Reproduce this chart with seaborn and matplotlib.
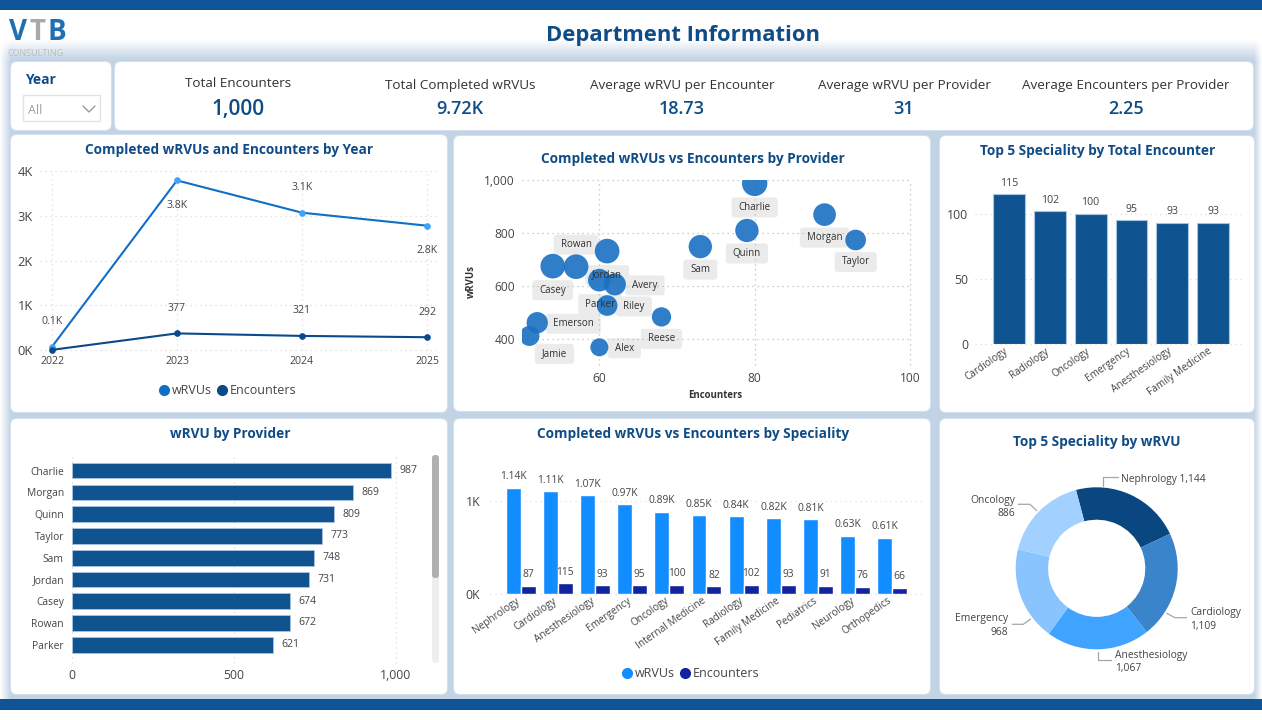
import numpy as np
import pandas as pd
import matplotlib
matplotlib.use("Agg")
import matplotlib.pyplot as plt
from matplotlib.lines import Line2D
from matplotlib.patches import FancyBboxPatch, Rectangle
from matplotlib.transforms import ScaledTranslation
import seaborn as sns

# ---------- data ----------
years = [2022, 2023, 2024, 2025]
year_wrvus = [80, 3790, 3070, 2780]
year_encounters = [10, 377, 321, 292]
year_wrvu_labels = ["0.1K", "3.8K", "3.1K", "2.8K"]
year_enc_labels = ["", "377", "321", "292"]

providers = ["Charlie", "Morgan", "Quinn", "Taylor", "Sam", "Jordan", "Casey", "Rowan",
             "Parker", "Avery", "Riley", "Reese", "Emerson", "Jamie", "Alex"]
provider_encounters = [80, 89, 79, 93, 73, 61, 54, 57, 60, 62, 61, 68, 52, 51, 60]
provider_wrvus = [987, 869, 809, 773, 748, 731, 674, 672, 621, 605, 525, 482, 460, 410, 367]
provider_bubble = [38, 34, 35, 31, 35, 37, 37, 37, 34, 33, 31, 29, 32, 30, 27]

bar_providers = ["Charlie", "Morgan", "Quinn", "Taylor", "Sam", "Jordan", "Casey", "Rowan", "Parker"]
bar_provider_wrvus = [987, 869, 809, 773, 748, 731, 674, 672, 621]

top_enc_specialities = ["Cardiology", "Radiology", "Oncology", "Emergency", "Anesthesiology", "Family Medicine"]
top_enc_values = [115, 102, 100, 95, 93, 93]

specialities = ["Nephrology", "Cardiology", "Anesthesiology", "Emergency", "Oncology", "Internal Medicine",
                "Radiology", "Family Medicine", "Pediatrics", "Neurology", "Orthopedics"]
spec_wrvus = [1144, 1109, 1067, 968, 886, 848, 838, 817, 808, 628, 607]
spec_encounters = [87, 115, 93, 95, 100, 82, 102, 93, 91, 76, 66]
spec_wrvu_labels = ["1.14K", "1.11K", "1.07K", "0.97K", "0.89K", "0.85K", "0.84K", "0.82K", "0.81K", "0.63K", "0.61K"]

donut_names = ["Nephrology", "Cardiology", "Anesthesiology", "Emergency", "Oncology"]
donut_values = [1144, 1109, 1067, 968, 886]

kpi_names = ["Total Encounters", "Total Completed wRVUs", "Average wRVU per Encounter",
             "Average wRVU per Provider", "Average Encounters per Provider"]
kpi_values = ["1,000", "9.72K", "18.73", "31", "2.25"]

# ---------- style ----------
W, H = 1262, 720
sns.set_theme(style="white")
plt.rcParams["font.family"] = ["Open Sans", "DejaVu Sans"]
NAVY = "#0F4C86"
BAR = "#0F5490"
EDGE = "#A9C4E0"
TXT = "#444444"
GRID = "#DCDCDC"
dotted = (0, (1, 3))

fig = plt.figure(figsize=(W / 100, H / 100), dpi=100, facecolor="white")


def axpx(x0, y0, x1, y1, **kw):
    ax = fig.add_axes([x0 / W, 1 - y1 / H, (x1 - x0) / W, (y1 - y0) / H], **kw)
    ax.patch.set_alpha(0)
    return ax


# base layer in pixel coordinates
base = axpx(0, 0, W, H)
base.axis("off")
xx, yy = np.meshgrid(np.arange(W) + 0.5, np.arange(H) + 0.5)
shade = np.clip((yy - 40) / 20, 0, 1) * np.clip(xx / 11, 0, 1) * np.clip((W - xx) / 8, 0, 1)
c1 = np.array([0xC2, 0xD3, 0xE5]) / 255
bg = 1 - shade[..., None] * (1 - c1)
base.imshow(bg, extent=(0, W, H, 0), aspect="auto", zorder=0)
base.add_patch(Rectangle((0, 0), W, 10, fc="#0F5496", ec="none", zorder=1))
base.add_patch(Rectangle((0, 699), W, 11, fc="#0F5496", ec="none", zorder=1))
base.add_patch(Rectangle((0, 710), W, 10, fc="white", ec="none", zorder=1))
base.set_xlim(0, W)
base.set_ylim(H, 0)

cards = [(11, 62, 111, 130), (115, 62, 1253, 130), (11, 135, 447, 412), (454, 136, 930, 411),
         (940, 136, 1254, 412), (11, 419, 447, 694), (454, 419, 930, 694), (940, 419, 1254, 694)]
for x0, y0, x1, y1 in cards:
    base.add_patch(FancyBboxPatch((x0 - 1, y0 - 1), x1 - x0 + 2, y1 - y0 + 2,
                                  boxstyle="round,pad=0,rounding_size=7", fc="white", ec="none",
                                  alpha=0.3, zorder=2))
    base.add_patch(FancyBboxPatch((x0, y0), x1 - x0, y1 - y0, boxstyle="round,pad=0,rounding_size=6",
                                  fc="white", ec="none", zorder=3))


def T(x, y, s, size=8, color=TXT, ha="center", va="center", weight="normal", **kw):
    return base.text(x, y + 1, s, fontsize=size, color=color, ha=ha, va=va, fontweight=weight, zorder=5, **kw)


# header, logo, slicer, KPI
T(682.5, 34, "Department Information", size=15.8, color=NAVY, weight="bold")
T(9, 31, "V", size=20, color="#1F6FB2", ha="left", weight="bold")
T(29.5, 31, "T", size=20, color="#A9A9A9", ha="left", weight="bold")
T(47, 31, "B", size=20, color="#1F6FB2", ha="left", weight="bold")
T(8, 53, "CONSULTING", size=6.5, color="#BDBDBD", ha="left")
T(25, 78.5, "Year", size=10, color=NAVY, ha="left", weight="bold")
base.add_patch(Rectangle((23, 95), 77, 26, fc="white", ec="#E4E4E4", lw=1, zorder=4))
T(28, 109, "All", size=9, color="#A0A0A0", ha="left")
base.plot([83, 89, 95], [106, 112, 106], color="#9A9A9A", lw=1, zorder=5)

kpi_x = [238, 460, 682, 904, 1126]
kpi_y = [82.5, 84.5, 84.5, 84.5, 84.5]
for x, y, n, v, s in zip(kpi_x, kpi_y, kpi_names, kpi_values, [15, 13, 13, 13, 13]):
    T(x, y, n, size=9.7, color="#333333")
    T(x, 108, v, size=s, color=NAVY, weight="semibold")

# card titles
T(229, 149, "Completed wRVUs and Encounters by Year", size=9.8, color=NAVY, weight="bold")
T(693, 158, "Completed wRVUs vs Encounters by Provider", size=9.8, color=NAVY, weight="bold")
T(1098, 150, "Top 5 Speciality by Total Encounter", size=9.8, color=NAVY, weight="bold")
T(230, 433, "wRVU by Provider", size=9.8, color=NAVY, weight="bold")
T(693, 433, "Completed wRVUs vs Encounters by Speciality", size=9.8, color=NAVY, weight="bold")
T(1097, 441, "Top 5 Speciality by wRVU", size=9.8, color=NAVY, weight="bold")


def grid(ax, axis="both", color=GRID):
    ax.grid(True, axis=axis, color=color, lw=0.9, ls=dotted, clip_on=False)
    ax.set_axisbelow(True)
    sns.despine(ax=ax, left=True, bottom=True)
    ax.tick_params(length=0)


def legend(ax, labels, colors, cx, cy):
    h = [Line2D([], [], ls="", marker="o", ms=7, color=c) for c in colors]
    ax.legend(h, labels, loc="center", bbox_to_anchor=(cx / W, 1 - cy / H), bbox_transform=fig.transFigure,
              ncol=2, frameon=False, fontsize=9.0, handlelength=0.7, handletextpad=0.25, columnspacing=0.45,
              labelcolor="#444444", borderpad=0)


def slant(ax):
    shift = ScaledTranslation(-5 / 100, 0, fig.dpi_scale_trans)
    for lab in ax.get_xticklabels():
        lab.set(rotation=35, ha="right", rotation_mode="anchor")
        lab.set_transform(lab.get_transform() + shift)


# ---------- line chart ----------
ax = axpx(40, 171, 437, 350.3)
df_year = pd.DataFrame({"Year": years, "wRVUs": year_wrvus, "Encounters": year_encounters})
sns.lineplot(data=df_year, x="Year", y="wRVUs", ax=ax, color="#0F6FC6", lw=1.5, marker="o", ms=4,
             markerfacecolor="#3FA3FF", markeredgecolor="#3FA3FF", clip_on=False)
sns.lineplot(data=df_year, x="Year", y="Encounters", ax=ax, color="#0B4A8A", lw=1.5, marker="o", ms=4,
             markeredgecolor="#0B4A8A", clip_on=False)
ax.set_xlim(2022 - 12 / 125, 2025 + 10 / 125)
ax.set_ylim(0, 4000)
ax.set_xticks(years, [str(y) for y in years])
ax.set_yticks([0, 1000, 2000, 3000, 4000], ["0K", "1K", "2K", "3K", "4K"])
ax.set_xlabel("")
ax.set_ylabel("")
grid(ax)
ax.tick_params(axis="y", labelsize=9.3, labelcolor=TXT, pad=5)
ax.tick_params(axis="x", labelsize=7.6, labelcolor=TXT, pad=4)
for x, y, s, off in zip(years, year_wrvus, year_wrvu_labels, [18, -18, 18, -18]):
    ax.annotate(s, (x, y), xytext=(0, off), textcoords="offset points", ha="center", va="center",
                fontsize=7.6, color=TXT, annotation_clip=False)
for x, y, s in zip(years, year_encounters, year_enc_labels):
    if s:
        ax.annotate(s, (x, y), xytext=(0, 18), textcoords="offset points", ha="center", va="center",
                    fontsize=7.6, color=TXT, annotation_clip=False)
legend(ax, ["wRVUs", "Encounters"], ["#0F6FC6", "#0B4A8A"], 228, 390.5)

# ---------- scatter ----------
ax = axpx(521.7, 180, 910, 365)
df_prov = pd.DataFrame({"Provider": providers, "Encounters": provider_encounters, "wRVUs": provider_wrvus,
                        "Bubble": np.array(provider_bubble, float) ** 2})
rpt = lambda r: (2 * r / 3 * 0.72) ** 2
sns.scatterplot(data=df_prov, x="Encounters", y="wRVUs", size="Bubble",
                sizes=(rpt(min(provider_bubble)), rpt(max(provider_bubble))), color="#1A70C2", alpha=0.9,
                linewidth=0, legend=False, ax=ax, zorder=3)
ax.set_xlim(50, 100)
ax.set_ylim(300, 1000)
ax.set_xticks([60, 80, 100])
ax.set_yticks([400, 600, 800, 1000], ["400", "600", "800", "1,000"])
grid(ax, color="#BDBDBD")
ax.tick_params(axis="both", labelsize=8.6, labelcolor=TXT, pad=5)
ax.set_xlabel("Encounters", fontsize=6.9, fontweight="bold", color="#333333")
ax.set_ylabel("wRVUs", fontsize=6.9, fontweight="bold", color="#333333")
ax.xaxis.set_label_coords(0.498, -0.135)
ax.yaxis.set_label_coords(-0.115, 0.454)
label_offset_px = {"Charlie": (0, 24), "Morgan": (0, 23), "Quinn": (0, 23), "Taylor": (0, 22), "Sam": (0, 23),
                   "Rowan": (0, -22), "Jordan": (0, 24), "Casey": (0, 24), "Avery": (30, 1), "Parker": (1, 24),
                   "Riley": (27, 1), "Emerson": (36, 1), "Reese": (0, 22), "Alex": (25, 1), "Jamie": (25, 18)}
renderer = fig.canvas.get_renderer()
for name, x, y in zip(providers, provider_encounters, provider_wrvus):
    dx, dy = label_offset_px[name]
    t = ax.annotate(name, (x, y), xytext=(dx * 0.72, -dy * 0.72), textcoords="offset points", ha="center",
                    va="center", fontsize=7.0, color="#303030", annotation_clip=False, zorder=4)
    # the grey label box sits beneath the bubbles, the name above them
    px, py = ax.transData.transform((x, y))
    cx, cy = px + dx, (H - py) + dy
    w = t.get_window_extent(renderer).width + 14
    base.add_patch(FancyBboxPatch((cx - w / 2, cy - 10), w, 20, boxstyle="round,pad=0,rounding_size=3",
                                  fc="#EBEBEB", ec="none", zorder=4))

# ---------- top encounter bars ----------
ax = axpx(975, 180, 1245, 344.3)
df_top = pd.DataFrame({"Speciality": top_enc_specialities, "Encounters": top_enc_values})
sns.barplot(data=df_top, x="Speciality", y="Encounters", color=BAR, saturation=1, width=0.78, ax=ax,
            edgecolor=EDGE, linewidth=0.8)
ax.set_xlim(-0.83, 5.78)
ax.set_ylim(0, 126)
ax.set_yticks([0, 50, 100])
ax.set_xlabel("")
ax.set_ylabel("")
grid(ax, axis="y")
ax.tick_params(axis="y", labelsize=8.8, labelcolor=TXT, pad=5)
ax.tick_params(axis="x", labelsize=7.2, labelcolor=TXT, pad=1)
slant(ax)
ax.bar_label(ax.containers[0], labels=[str(v) for v in top_enc_values], padding=4, fontsize=7.6, color=TXT)

# ---------- provider bars ----------
ax = axpx(72.3, 455, 430, 663)
df_bp = pd.DataFrame({"Provider": bar_providers, "wRVUs": bar_provider_wrvus})
sns.barplot(data=df_bp, y="Provider", x="wRVUs", orient="y", color=BAR, saturation=1, width=0.72, ax=ax,
            edgecolor=EDGE, linewidth=0.6)
ax.set_xlim(0, (430 - 72.3) / 0.3234)
ax.set_ylim(8.84, -0.72)
ax.set_xticks([0, 500, 1000], ["0", "500", "1,000"])
ax.set_xlabel("")
ax.set_ylabel("")
grid(ax, axis="x")
ax.tick_params(axis="x", labelsize=8.8, labelcolor=TXT, pad=4)
ax.tick_params(axis="y", labelsize=7.4, labelcolor=TXT, pad=6)
ax.bar_label(ax.containers[0], labels=[str(v) for v in bar_provider_wrvus], padding=6, fontsize=7.6, color=TXT)
base.add_patch(FancyBboxPatch((432, 455), 7, 208, boxstyle="round,pad=0,rounding_size=3", fc="#EEEEEE", ec="none", zorder=4))
base.add_patch(FancyBboxPatch((432, 455), 7, 123, boxstyle="round,pad=0,rounding_size=3", fc="#B0B0B0", ec="none", zorder=4))

# ---------- grouped bars ----------
ax = axpx(490, 465, 922, 594)
df_spec = pd.DataFrame({"Speciality": specialities, "wRVUs": spec_wrvus, "Encounters": spec_encounters}).melt(
    id_vars="Speciality", var_name="Measure", value_name="Value")
sns.barplot(data=df_spec, x="Speciality", y="Value", hue="Measure", palette={"wRVUs": "#118DFF", "Encounters": "#12239E"},
            saturation=1, width=0.8, gap=0, legend=False, ax=ax)
ax.set_xlim(-0.826, 10.8)
ax.set_ylim(0, 129 / 0.0927)
ax.set_yticks([0, 1000], ["0K", "1K"])
ax.set_xlabel("")
ax.set_ylabel("")
grid(ax, axis="y", color="#E4E4E4")
ax.tick_params(axis="y", labelsize=8.8, labelcolor=TXT, pad=7)
ax.tick_params(axis="x", labelsize=7.2, labelcolor=TXT, pad=1)
slant(ax)
ax.bar_label(ax.containers[0], labels=spec_wrvu_labels, padding=4, fontsize=7.4, color=TXT)
ax.bar_label(ax.containers[1], labels=[str(v) for v in spec_encounters], padding=4, fontsize=7.4, color=TXT)
legend(ax, ["wRVUs", "Encounters"], ["#118DFF", "#12239E"], 691, 673.5)

# ---------- donut ----------
ax = axpx(1096.7 - 81, 568.3 - 81, 1096.7 + 81, 568.3 + 81)
ax.pie(donut_values, startangle=104.8, counterclock=False, radius=1,
       colors=["#0A4680", "#3A84CB", "#3FA3FF", "#8AC4FF", "#A2D0FF"],
       wedgeprops=dict(width=0.4, linewidth=0))
ax.set_xlim(-1, 1)
ax.set_ylim(-1, 1)
ax.set_aspect("equal")
LEAD = "#A6A6A6"
leaders = [[(1103.3, 486), (1103.3, 477), (1118, 477)],
           [(1036.7, 510.7), (1030, 504.3), (1018.3, 504.3)],
           [(1166.7, 613.3), (1175, 617.7), (1186.7, 617.7)],
           [(1098.3, 651.7), (1098.3, 660.3), (1110.7, 660.3)],
           [(1030.7, 619), (1023.3, 624.3), (1012.3, 624.3)]]
for pts in leaders:
    xs, ys = zip(*pts)
    base.plot(xs, ys, color=LEAD, lw=0.9, zorder=5)
base.set_xlim(0, W)
base.set_ylim(H, 0)
fmt = [f"{v:,}" for v in donut_values]
T(1120.7, 478.3, f"{donut_names[0]} {fmt[0]}", size=7.4, ha="left")
T(1015.3, 499, donut_names[4], size=7.4, ha="right")
T(1015.3, 512.7, fmt[4], size=7.4, ha="right")
T(1190, 611.7, donut_names[1], size=7.4, ha="left")
T(1190, 625.3, fmt[1], size=7.4, ha="left")
T(1115, 654.3, donut_names[2], size=7.4, ha="left")
T(1115, 668, fmt[2], size=7.4, ha="left")
T(1007.7, 617.7, donut_names[3], size=7.4, ha="right")
T(1007.7, 631.5, fmt[3], size=7.4, ha="right")

fig.savefig("out.png", dpi=100, facecolor="white")
